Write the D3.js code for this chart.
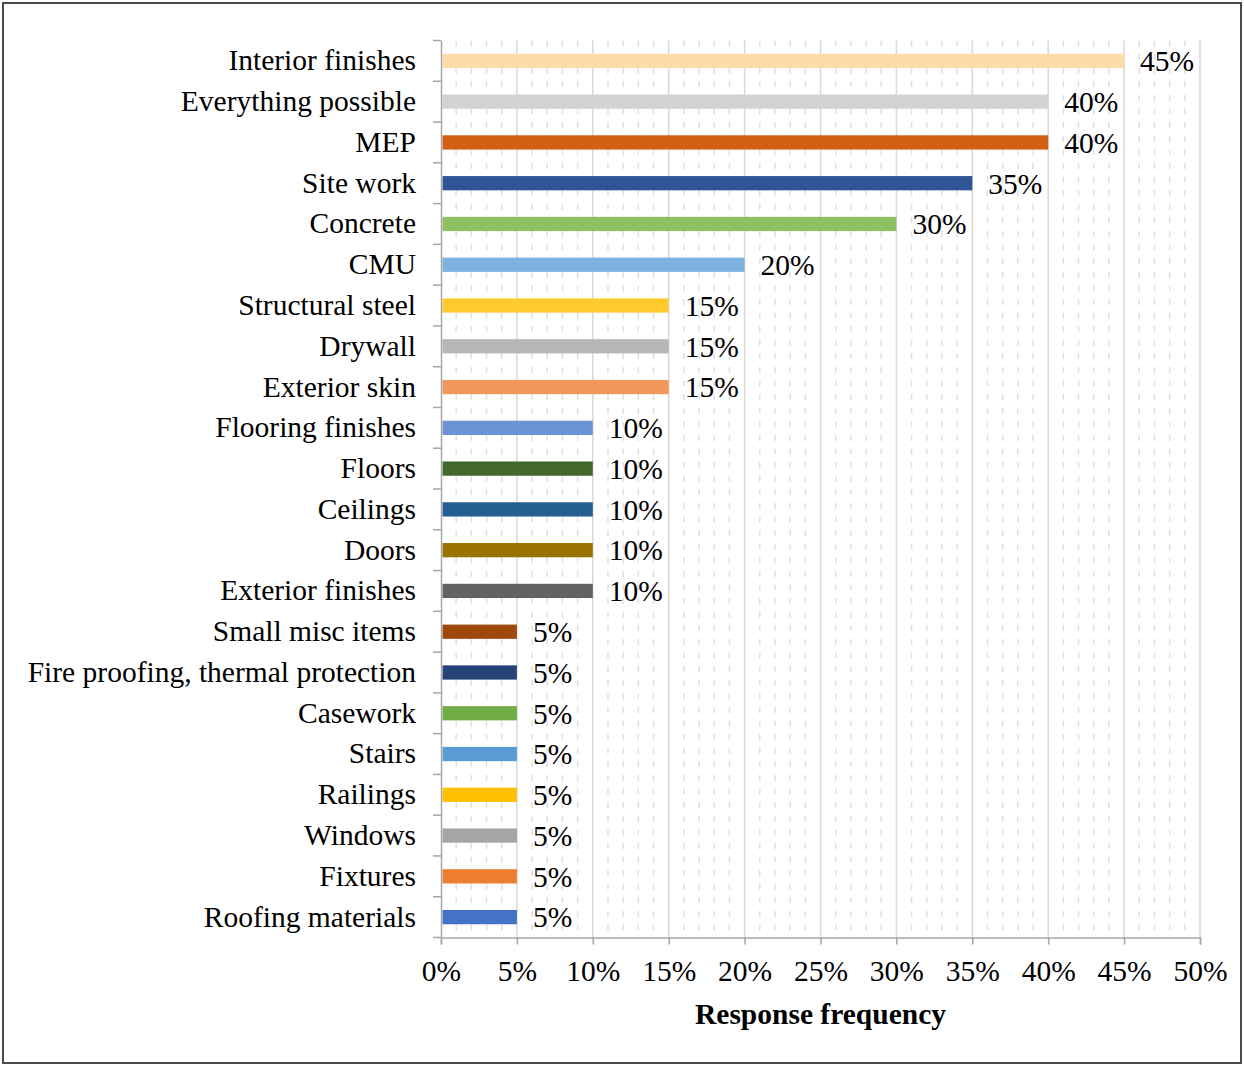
<!DOCTYPE html>
<html>
<head>
<meta charset="utf-8">
<script src="https://cdn.jsdelivr.net/npm/d3@7/dist/d3.min.js"></script>
<style>
  html, body { margin: 0; padding: 0; background: #fff; }
  svg { display: block; }
</style>
</head>
<body>
<svg id="chart" width="1244" height="1065"></svg>
<script>
// Building elements and how often respondents named them (top to bottom)
const categories = [
  "Interior finishes", "Everything possible", "MEP", "Site work", "Concrete", "CMU",
  "Structural steel", "Drywall", "Exterior skin", "Flooring finishes", "Floors",
  "Ceilings", "Doors", "Exterior finishes", "Small misc items",
  "Fire proofing, thermal protection", "Casework", "Stairs", "Railings", "Windows",
  "Fixtures", "Roofing materials"
];
const values = [45, 40, 40, 35, 30, 20, 15, 15, 15, 10, 10, 10, 10, 10, 5, 5, 5, 5, 5, 5, 5, 5];
const colors = [
  "#FFDBA9", "#D3D3D3", "#D26012", "#2F5597", "#8DC264", "#7DB1E0",
  "#FFCA2E", "#B7B7B7", "#F1975C", "#6B93D6", "#43682B",
  "#255E91", "#997300", "#636363", "#9E480E",
  "#264478", "#70AD47", "#5B9BD5", "#FFC000", "#A5A5A5",
  "#ED7D31", "#4472C4"
];
const xTicks = [0, 5, 10, 15, 20, 25, 30, 35, 40, 45, 50];
const xMinorTicks = d3.range(0, 51, 1).filter(v => v % 5 !== 0);
const xTitle = "Response frequency";

const svg = d3.select("#chart");
const W = 1244, H = 1065;
const margin = { left: 441, right: 44, top: 40.5, bottom: 127.5 };
const font = "'Liberation Serif', 'Times New Roman', serif";
const fs = 29.5;

// Outer frame
svg.append("rect")
  .attr("x", 3).attr("y", 3).attr("width", W - 6).attr("height", H - 5)
  .attr("fill", "#fff").attr("stroke", "#4a4a4a").attr("stroke-width", 2);

const x = d3.scaleLinear().domain([0, 50]).range([margin.left, W - margin.right]);
const y = d3.scaleBand().domain(categories).range([margin.top, H - margin.bottom])
  .paddingInner(0.65).paddingOuter(0.325);
const y0 = H - margin.bottom;

// Minor gridlines (dashed)
svg.append("g").selectAll("line").data(xMinorTicks).join("line")
  .attr("x1", d => x(d)).attr("x2", d => x(d))
  .attr("y1", margin.top).attr("y2", y0)
  .attr("stroke", "#e0e0e0").attr("stroke-width", 1.5)
  .attr("stroke-dasharray", "6,7.6");

// Major gridlines
svg.append("g").selectAll("line").data(xTicks.filter(d => d > 0)).join("line")
  .attr("x1", d => x(d)).attr("x2", d => x(d))
  .attr("y1", margin.top).attr("y2", y0)
  .attr("stroke", "#d9d9d9").attr("stroke-width", 1.5);

// Bars
svg.append("g").selectAll("rect").data(categories).join("rect")
  .attr("x", x(0) + 1.5)
  .attr("y", d => y(d))
  .attr("width", (d, i) => x(values[i]) - x(0) - 1.5)
  .attr("height", y.bandwidth())
  .attr("fill", (d, i) => colors[i]);

// Value labels
svg.append("g").selectAll("text").data(categories).join("text")
  .attr("x", (d, i) => x(values[i]) + 16)
  .attr("y", d => y(d) + y.bandwidth() / 2)
  .attr("dy", "0.35em")
  .attr("font-family", font).attr("font-size", fs).attr("fill", "#000")
  .text((d, i) => values[i] + "%");

// Y axis
const yAxis = svg.append("g")
  .attr("transform", `translate(${x(0)},0)`)
  .call(d3.axisLeft(y).tickSize(0).tickPadding(25));
yAxis.select(".domain").attr("stroke", "#a6a6a6").attr("stroke-width", 1.5);
yAxis.selectAll("text").attr("font-family", font).attr("font-size", fs).attr("fill", "#000");
// Category boundary tick marks
const step = y.step();
const bounds = d3.range(categories.length + 1).map(i => margin.top + i * step);
yAxis.append("g").selectAll("line").data(bounds).join("line")
  .attr("x1", -8).attr("x2", 0)
  .attr("y1", d => d).attr("y2", d => d)
  .attr("stroke", "#a6a6a6").attr("stroke-width", 1.5);

// X axis
const xAxis = svg.append("g")
  .attr("transform", `translate(0,${y0})`)
  .call(d3.axisBottom(x).tickValues(xTicks).tickSize(7).tickPadding(16).tickFormat(d => d + "%"));
xAxis.select(".domain").attr("stroke", "#a6a6a6").attr("stroke-width", 1.5);
xAxis.selectAll(".tick line").attr("stroke", "#a6a6a6").attr("stroke-width", 1.5);
xAxis.selectAll("text").attr("font-family", font).attr("font-size", fs).attr("fill", "#000");

// Axis title
svg.append("text")
  .attr("x", (x(0) + x(50)) / 2).attr("y", 1024)
  .attr("text-anchor", "middle")
  .attr("font-family", font).attr("font-size", fs).attr("font-weight", "bold")
  .text(xTitle);
</script>
</body>
</html>
